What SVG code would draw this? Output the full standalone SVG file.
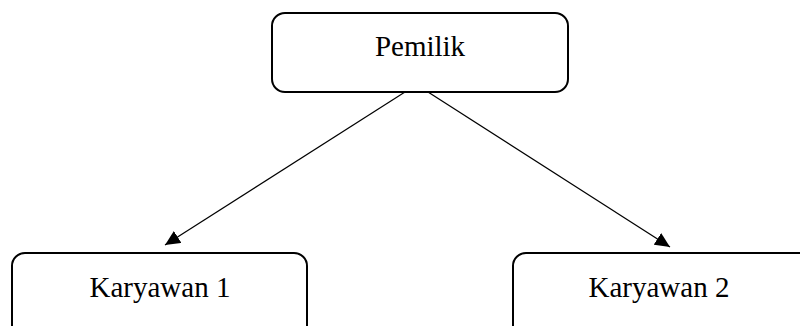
<svg xmlns="http://www.w3.org/2000/svg" width="800" height="326" viewBox="0 0 800 326">
<style>
.box{fill:#fff;stroke:#000;stroke-width:2}
.lbl{font-family:"Liberation Serif","Times New Roman",serif;font-size:29px;fill:#000;text-anchor:middle}
.edge{stroke:#000;stroke-width:1.2;fill:none;marker-end:url(#ah)}
</style>
<defs>
<marker id="ah" viewBox="0 0 15 14" refX="15" refY="7" markerWidth="15" markerHeight="14" markerUnits="userSpaceOnUse" orient="auto">
<path d="M0,0 L15,7 L0,14 Z" fill="#000"/>
</marker>
</defs>
<rect width="800" height="326" fill="#fff"/>
<g id="connectors">
<line class="edge" x1="405" y1="92" x2="165" y2="245"/>
<line class="edge" x1="428" y1="92" x2="670" y2="247"/>
</g>
<g id="pemilik">
<rect class="box" x="272" y="13" width="296" height="79" rx="13"/>
<text class="lbl" x="420" y="56">Pemilik</text>
</g>
<g id="karyawan1">
<rect class="box" x="12" y="253" width="295" height="100" rx="13"/>
<text class="lbl" x="160" y="297">Karyawan 1</text>
</g>
<g id="karyawan2">
<rect class="box" x="513" y="253" width="300" height="100" rx="13"/>
<text class="lbl" x="659" y="297">Karyawan 2</text>
</g>
</svg>
